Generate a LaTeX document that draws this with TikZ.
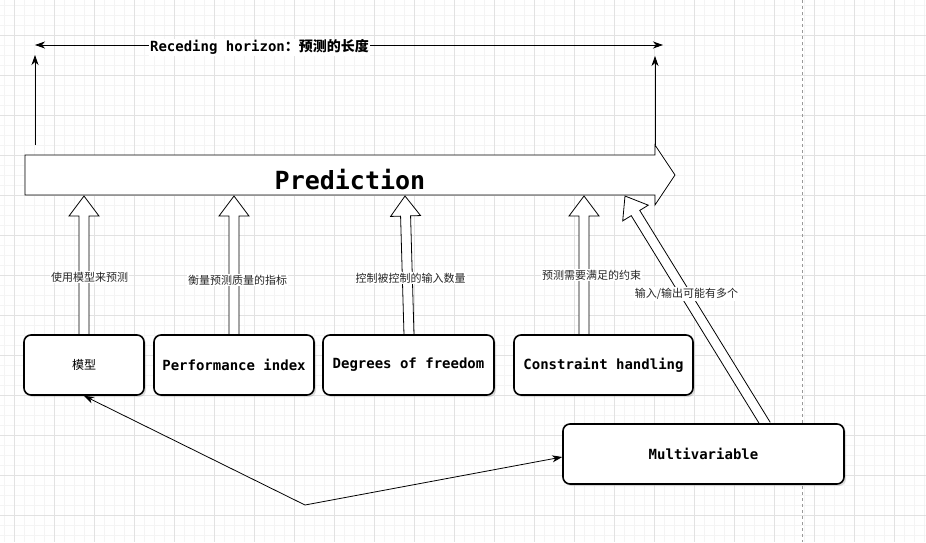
\documentclass[tikz,border=0pt]{standalone}
\usepackage{fontspec}
\setmonofont{DejaVu Sans Mono}
\newfontfamily\cjk{Noto Sans CJK SC}
\usetikzlibrary{calc,arrows.meta,shadows}
\definecolor{minorg}{HTML}{F4F4F4}
\definecolor{majorg}{HTML}{E2E2E2}
\pgfdeclarelayer{bg}
\pgfdeclarelayer{mid}
\pgfsetlayers{bg,mid,main}
\newcommand\blockarr[2]{%
  \path ($(#2)!20pt!(#1)$) coordinate (hh);
  \draw[line width=0.8pt,fill=white,line join=miter]
    ($(#1)!5pt!90:(#2)$) -- ($(hh)!5pt!90:(#2)$) -- ($(hh)!15pt!90:(#2)$) -- (#2)
    -- ($(hh)!15pt!-90:(#2)$) -- ($(hh)!5pt!-90:(#2)$) -- ($(#1)!5pt!-90:(#2)$);
}
\begin{document}
\begin{tikzpicture}[x=1pt,y=-1pt,
  box/.style={draw=black,line width=1.6pt,rounded corners=7pt,fill=white,
    drop shadow={shadow xshift=2pt,shadow yshift=-2pt,opacity=0.25},
    minimum height=60pt,
    font=\ttfamily\bfseries\fontsize{14}{16}\selectfont,inner sep=0pt},
  lbl/.style={fill=white,inner sep=1pt,font=\cjk\fontsize{11}{13}\selectfont,text=black!85},
  thin/.style={line width=0.8pt,{Stealth[length=10pt,width=7pt,inset=3pt]}-{Stealth[length=10pt,width=7pt,inset=3pt]}},
  up/.style={line width=0.8pt,-{Stealth[length=10pt,width=7pt,inset=3pt]}}
]
\useasboundingbox (0,0) rectangle (926,542);
\begin{pgfonlayer}{bg}
\fill[white] (0,0) rectangle (926,542);
\foreach \x in {4,14,...,924} \draw[minorg,line width=0.8pt] (\x,0) -- (\x,542);
\foreach \y in {5,15,...,535} \draw[minorg,line width=0.8pt] (0,\y) -- (926,\y);
\foreach \x in {14,54,...,894} \draw[majorg,line width=0.8pt] (\x,0) -- (\x,542);
\foreach \y in {35,75,...,515} \draw[majorg,line width=0.8pt] (0,\y) -- (926,\y);
\draw[black!40,line width=0.8pt,dash pattern=on 3pt off 3pt] (802,0) -- (802,542);
\end{pgfonlayer}

% boxes
\node[box,minimum width=120pt,font=\cjk\fontsize{12}{14}\selectfont] (m) at (84,365) {模型};
\node[box,minimum width=160pt] (pi) at (234,365) {Performance index};
\node[box,minimum width=171pt] (dof) at (408.5,365) {Degrees of freedom};
\node[box,minimum width=179pt] (ch) at (603.5,365) {Constraint handling};
\node[box,minimum width=281pt] (mv) at (703.5,454) {Multivariable};

% prediction arrow
\begin{pgfonlayer}{mid}
\draw[line width=0.8pt,fill=white] (25,155) -- (655,155) -- (655,145) -- (675,175) -- (655,205) -- (655,195) -- (25,195) -- cycle;
\end{pgfonlayer}
\node[font=\ttfamily\bfseries\fontsize{25}{28}\selectfont] (pred) at (350,180) {Prediction};

% block arrows
\coordinate (t1) at (84,196);
\coordinate (t2) at (234,196);
\coordinate (b3) at (409,335);
\coordinate (t3) at (405,196);
\coordinate (b4) at (584,335);
\coordinate (t4) at (584,196);
\coordinate (b5) at (766,425);
\coordinate (t5) at (625,196);
\begin{pgfonlayer}{mid}
\blockarr{m.north}{t1}
\blockarr{pi.north}{t2}
\blockarr{b3}{t3}
\blockarr{b4}{t4}
\blockarr{b5}{t5}
\end{pgfonlayer}

% labels
\node[lbl] (l1) at (89.5,277) {使用模型来预测};
\node[lbl] (l2) at (237.5,280) {衡量预测质量的指标};
\node[lbl] (l3) at (410.5,278) {控制被控制的输入数量};
\node[lbl] (l4) at (591.5,275) {预测需要满足的约束};
\node[lbl] (l5) at (686.5,294) {输入/输出可能有多个};

% horizon
\coordinate (hl) at (35,45);
\coordinate (hr) at (663,45);
\draw[thin] (hl) -- (hr);
\node[fill=white,inner sep=1pt] (hz) at (259.5,47)
  {{\ttfamily\bfseries\fontsize{14}{16}\selectfont Receding horizon}{\cjk\bfseries\fontsize{14}{16}\selectfont ：预测的长度}};
\coordinate (vl0) at (35,145);
\coordinate (vl1) at (35,55);
\coordinate (vr0) at (655,145);
\coordinate (vr1) at (655,56);
\draw[up] (vl0) -- (vl1);
\draw[up] (vr0) -- (vr1);

% bottom connector
\coordinate (bend) at (305,505);
\draw[thin] (m.south) -- (bend) -- ($(mv.west)+(0,3)$);
\end{tikzpicture}
\end{document}
